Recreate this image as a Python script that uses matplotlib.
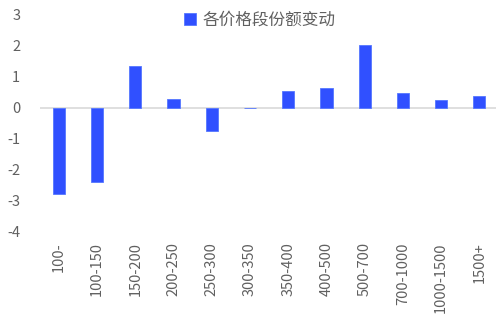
import matplotlib
matplotlib.use("Agg")
import matplotlib.pyplot as plt
import numpy as np

categories = ["100-", "100-150", "150-200", "200-250", "250-300", "300-350",
              "350-400", "400-500", "500-700", "700-1000", "1000-1500", "1500+"]
share_change = [-2.8, -2.4, 1.35, 0.28, -0.75, -0.03,
                0.55, 0.62, 2.02, 0.47, 0.23, 0.37]
series_name = "各价格段份额变动"
y_ticks = [-4, -3, -2, -1, 0, 1, 2, 3]

plt.rcParams["font.family"] = ["Noto Sans CJK SC", "DejaVu Sans"]
text_color = "#606060"

fig = plt.figure(figsize=(4.96, 3.24), dpi=100)
ax = fig.add_axes([0.08, 0.287, 0.925, 0.667])

x = np.arange(len(categories))
ax.bar(x, share_change, width=0.32, color="#3050FF", edgecolor="#5577FF",
       linewidth=0.6, label=series_name, zorder=3)
ax.axhline(0, color="#d9d9d9", linewidth=1.2, zorder=2)

ax.set_xlim(-0.5, len(categories) - 0.5)
ax.set_ylim(-4, 3)
ax.set_yticks(y_ticks)
ax.set_yticklabels([str(t) for t in y_ticks])
ax.set_xticks(x)
ax.set_xticklabels(categories, rotation=90)

for spine in ax.spines.values():
    spine.set_visible(False)
ax.tick_params(axis="both", length=0, colors=text_color, labelsize=10.5)
ax.tick_params(axis="x", pad=8)
ax.tick_params(axis="y", pad=14)

leg = ax.legend(loc="upper center", bbox_to_anchor=(0.48, 1.045), frameon=False,
                fontsize=12, handlelength=0.7, handleheight=0.7,
                handletextpad=0.4, borderaxespad=0)
for t in leg.get_texts():
    t.set_color(text_color)

fig.savefig("out.png", dpi=100)
